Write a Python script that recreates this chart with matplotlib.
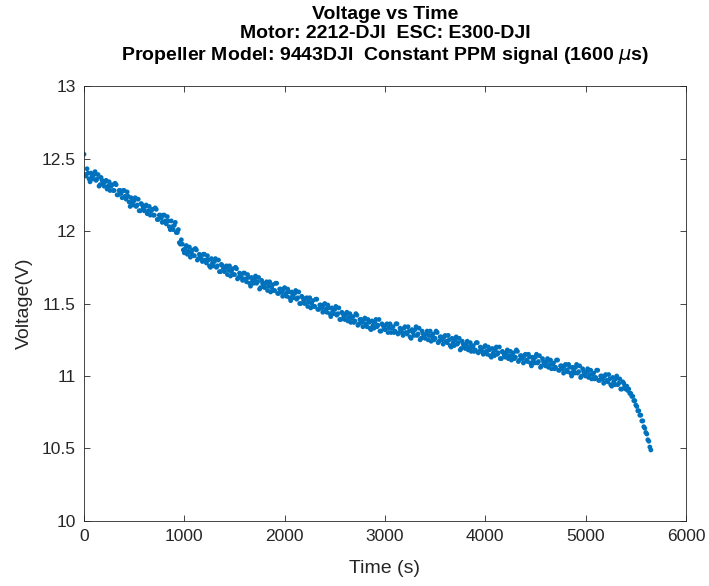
import matplotlib
matplotlib.use("Agg")
import matplotlib.pyplot as plt

# battery voltage.
# series A: samples at 0, 20, 40 ... 5400 s
time_a = list(range(0, 5401, 20))
volt_a = [
    12.53, 12.38, 12.40, 12.34, 12.38, 12.39, 12.35, 12.39, 12.32, 12.35,
    12.31, 12.35, 12.31, 12.28, 12.32, 12.28, 12.32, 12.25, 12.28, 12.23,
    12.28, 12.22, 12.24, 12.17, 12.20, 12.21, 12.17, 12.22, 12.14, 12.18,
    12.14, 12.18, 12.14, 12.11, 12.15, 12.11, 12.15, 12.08, 12.11, 12.06,
    12.11, 12.05, 12.07, 12.01, 12.03, 12.04, 11.99, 12.01, 11.91, 11.91,
    11.85, 11.90, 11.86, 11.82, 11.87, 11.83, 11.87, 11.81, 11.83, 11.79,
    11.84, 11.78, 11.80, 11.75, 11.78, 11.79, 11.75, 11.80, 11.72, 11.76,
    11.72, 11.76, 11.73, 11.69, 11.74, 11.70, 11.74, 11.68, 11.70, 11.66,
    11.71, 11.65, 11.68, 11.62, 11.66, 11.67, 11.64, 11.68, 11.61, 11.64,
    11.61, 11.65, 11.62, 11.58, 11.63, 11.59, 11.64, 11.57, 11.60, 11.55,
    11.61, 11.55, 11.58, 11.52, 11.56, 11.57, 11.53, 11.58, 11.50, 11.54,
    11.50, 11.54, 11.51, 11.47, 11.52, 11.48, 11.53, 11.46, 11.49, 11.44,
    11.50, 11.44, 11.47, 11.41, 11.45, 11.46, 11.42, 11.47, 11.39, 11.43,
    11.39, 11.44, 11.40, 11.37, 11.41, 11.38, 11.42, 11.36, 11.39, 11.34,
    11.40, 11.34, 11.37, 11.32, 11.35, 11.37, 11.34, 11.39, 11.31, 11.35,
    11.32, 11.36, 11.33, 11.30, 11.34, 11.31, 11.36, 11.30, 11.32, 11.28,
    11.34, 11.29, 11.31, 11.26, 11.30, 11.32, 11.28, 11.33, 11.26, 11.29,
    11.26, 11.31, 11.28, 11.24, 11.29, 11.26, 11.30, 11.24, 11.27, 11.22,
    11.28, 11.23, 11.25, 11.20, 11.23, 11.25, 11.22, 11.26, 11.19, 11.22,
    11.19, 11.24, 11.20, 11.17, 11.21, 11.18, 11.23, 11.17, 11.19, 11.15,
    11.21, 11.15, 11.18, 11.13, 11.16, 11.18, 11.15, 11.20, 11.12, 11.16,
    11.13, 11.18, 11.14, 11.11, 11.16, 11.13, 11.17, 11.11, 11.14, 11.09,
    11.15, 11.10, 11.13, 11.07, 11.11, 11.13, 11.09, 11.14, 11.07, 11.10,
    11.07, 11.12, 11.08, 11.05, 11.09, 11.06, 11.11, 11.04, 11.07, 11.02,
    11.08, 11.03, 11.06, 11.00, 11.04, 11.06, 11.02, 11.07, 11.00, 11.03,
    11.00, 11.05, 11.01, 10.98, 11.02, 10.99, 11.04, 10.97, 11.00, 10.95,
    11.01, 10.96, 10.98, 10.93, 10.96, 10.98, 10.94, 10.98, 10.91, 10.95,
    10.91,
]
# series B: samples at 10, 30, 50 ... 5390 s
time_b = list(range(10, 5391, 20))
volt_b = [
    12.39, 12.43, 12.36, 12.40, 12.36, 12.41, 12.36, 12.31, 12.37, 12.33,
    12.34, 12.29, 12.34, 12.31, 12.28, 12.33, 12.25, 12.28, 12.26, 12.28,
    12.24, 12.27, 12.20, 12.23, 12.18, 12.23, 12.18, 12.14, 12.19, 12.16,
    12.17, 12.12, 12.17, 12.14, 12.11, 12.16, 12.08, 12.11, 12.09, 12.11,
    12.07, 12.10, 12.03, 12.07, 12.01, 12.06, 11.99, 11.92, 11.94, 11.87,
    11.88, 11.84, 11.89, 11.85, 11.83, 11.88, 11.80, 11.84, 11.81, 11.84,
    11.80, 11.83, 11.76, 11.81, 11.76, 11.81, 11.76, 11.72, 11.77, 11.74,
    11.75, 11.70, 11.76, 11.72, 11.70, 11.75, 11.67, 11.71, 11.68, 11.71,
    11.67, 11.70, 11.64, 11.68, 11.64, 11.69, 11.65, 11.60, 11.66, 11.62,
    11.64, 11.59, 11.65, 11.61, 11.59, 11.64, 11.57, 11.60, 11.58, 11.60,
    11.57, 11.60, 11.54, 11.58, 11.54, 11.59, 11.54, 11.50, 11.55, 11.52,
    11.53, 11.48, 11.54, 11.50, 11.48, 11.53, 11.46, 11.49, 11.47, 11.49,
    11.46, 11.49, 11.43, 11.47, 11.43, 11.48, 11.43, 11.39, 11.44, 11.41,
    11.42, 11.38, 11.43, 11.40, 11.37, 11.43, 11.35, 11.39, 11.37, 11.39,
    11.36, 11.39, 11.33, 11.38, 11.33, 11.39, 11.35, 11.31, 11.36, 11.33,
    11.35, 11.30, 11.36, 11.33, 11.30, 11.36, 11.29, 11.33, 11.30, 11.33,
    11.30, 11.34, 11.27, 11.32, 11.28, 11.34, 11.29, 11.25, 11.31, 11.27,
    11.29, 11.25, 11.31, 11.27, 11.25, 11.31, 11.23, 11.27, 11.25, 11.27,
    11.24, 11.28, 11.21, 11.26, 11.21, 11.27, 11.23, 11.18, 11.24, 11.20,
    11.22, 11.18, 11.23, 11.20, 11.17, 11.23, 11.16, 11.20, 11.17, 11.20,
    11.17, 11.20, 11.14, 11.19, 11.14, 11.20, 11.16, 11.12, 11.17, 11.14,
    11.16, 11.12, 11.17, 11.14, 11.12, 11.18, 11.10, 11.14, 11.12, 11.14,
    11.11, 11.15, 11.09, 11.13, 11.09, 11.15, 11.10, 11.06, 11.12, 11.08,
    11.10, 11.06, 11.11, 11.08, 11.05, 11.11, 11.04, 11.07, 11.05, 11.07,
    11.04, 11.08, 11.02, 11.06, 11.02, 11.08, 11.03, 10.99, 11.05, 11.01,
    11.03, 10.99, 11.04, 11.01, 10.98, 11.04, 10.97, 11.00, 10.98, 11.00,
    10.97, 11.01, 10.94, 10.99, 10.94, 11.00, 10.95, 10.91, 10.96, 10.93,
]
# series C: the steep knee at the end, 10 s steps
time_c = list(range(5410, 5651, 10))
volt_c = [
    10.93, 10.90, 10.91, 10.88, 10.88, 10.86, 10.86, 10.83, 10.83, 10.80,
    10.79, 10.76, 10.76, 10.73, 10.73, 10.69, 10.69, 10.65, 10.64, 10.61,
    10.60, 10.56, 10.55, 10.51, 10.49,
]

time_s = time_a + time_b + time_c
voltage = volt_a + volt_b + volt_c

plt.rcParams["font.family"] = ["Liberation Sans", "DejaVu Sans"]
dark = "#262626"

fig = plt.figure(figsize=(7.09, 5.86), dpi=100)
ax = fig.add_axes([0.1185, 0.111, 0.849, 0.742])

ax.scatter(time_s, voltage, s=12, color="#0072BD", edgecolors="none")

ax.set_xlim(0, 6000)
ax.set_ylim(10, 13)
ax.set_xticks(range(0, 6001, 1000))
ax.set_yticks([10, 10.5, 11, 11.5, 12, 12.5, 13])
ax.set_yticklabels(["10", "10.5", "11", "11.5", "12", "12.5", "13"])
ax.tick_params(direction="in", length=4, width=0.6, colors=dark,
               labelsize=12.5, top=True, right=True, pad=6)
for sp in ax.spines.values():
    sp.set_color(dark)
    sp.set_linewidth(0.6)

ax.set_xlabel("Time (s)", fontsize=14, color=dark, labelpad=11)
ax.set_ylabel("Voltage(V)", fontsize=14, color=dark, labelpad=6)
ax.set_title("Voltage vs Time\nMotor: 2212-DJI  ESC: E300-DJI\n"
             "Propeller Model: 9443DJI  Constant PPM signal (1600 $\\mu$s)",
             fontsize=14, fontweight="bold", color="black", pad=19,
             linespacing=1.16)

fig.savefig("out.png", dpi=100)
